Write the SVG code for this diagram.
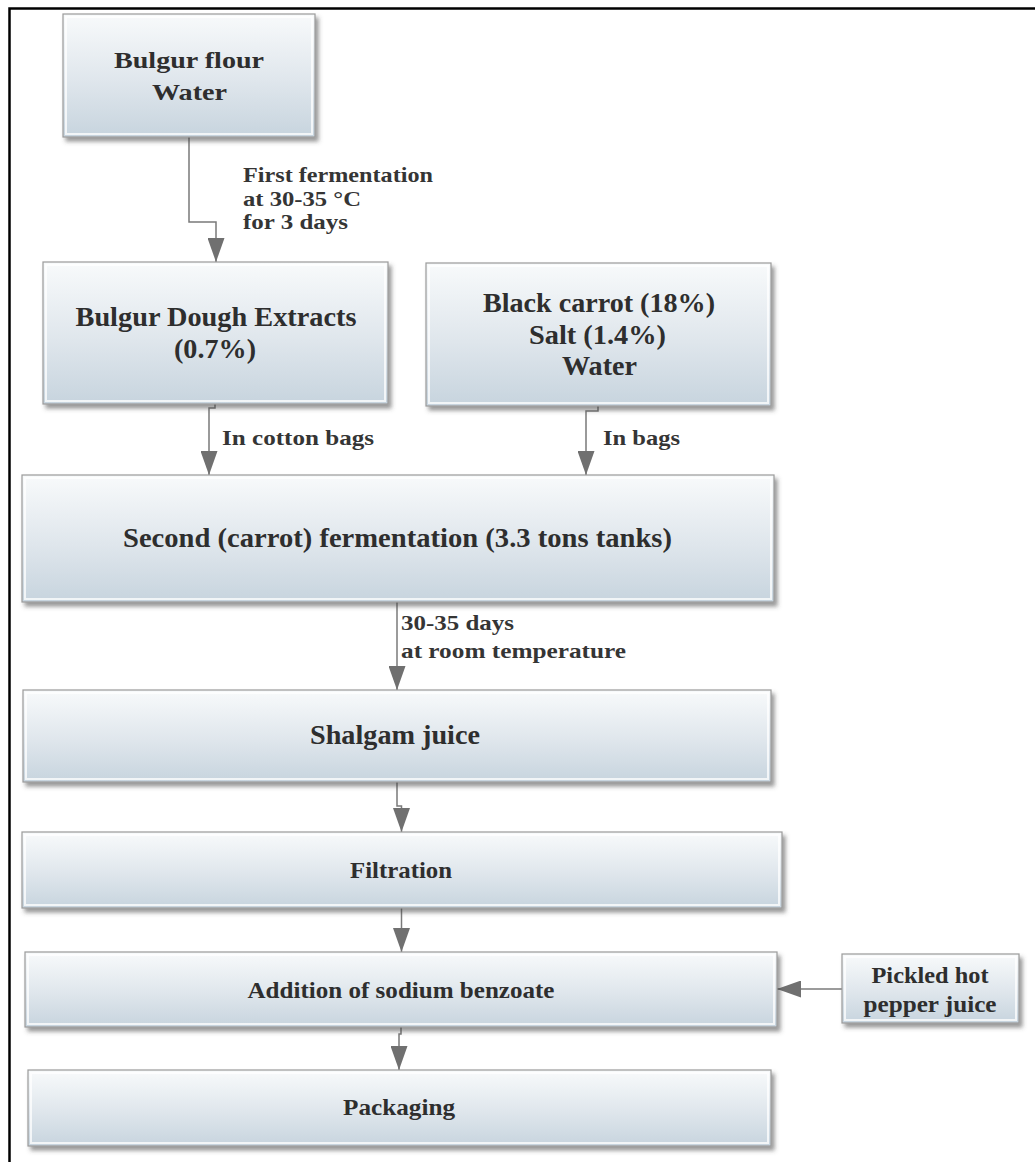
<svg xmlns="http://www.w3.org/2000/svg" width="1035" height="1162" viewBox="0 0 1035 1162" font-family="'Liberation Serif', 'Times New Roman', Tinos, Times, 'Nimbus Roman', FreeSerif, serif">
<defs>
<linearGradient id="fill" x1="0" y1="0" x2="0" y2="1">
<stop offset="0" stop-color="#f8fafb"/>
<stop offset="0.55" stop-color="#dfe6ec"/>
<stop offset="1" stop-color="#c7d4de"/>
</linearGradient>
<filter id="shadow" x="-10%" y="-10%" width="120%" height="130%">
<feDropShadow dx="3" dy="4" stdDeviation="2" flood-color="#444" flood-opacity="0.55"/>
</filter>
<marker id="arrow" viewBox="0 0 24 17" refX="24" refY="8.5" markerWidth="24" markerHeight="17" markerUnits="userSpaceOnUse" orient="auto">
<path d="M0,0 L24,8.5 L0,17 Z" fill="#707070"/>
</marker>
<style>
.box{fill:url(#fill);stroke:#9a9a9a;stroke-width:1.2;filter:url(#shadow);}
.bevel{fill:none;stroke:#ffffff;stroke-opacity:0.75;stroke-width:2;}
.t{font-weight:bold;fill:#2e2e2e;text-anchor:middle;}
.lbl{font-weight:bold;fill:#353535;font-size:22px;}
.c{fill:none;stroke:#7a7a7a;stroke-width:1.5;marker-end:url(#arrow);}
</style>
</defs>
<rect width="1035" height="1162" fill="#ffffff"/>
<path d="M9.5,1162 V8.5 H1035" fill="none" stroke="#000" stroke-width="2.5"/>

<g id="connectors">
<path class="c" d="M189,137 V222 H216 V262"/>
<path class="c" d="M215,404 V408 H209 V475"/>
<path class="c" d="M598,406 V411 H586 V475"/>
<path class="c" d="M397,602 V690"/>
<path class="c" d="M397,782 V806 H401.5 V832"/>
<path class="c" d="M401.5,908 V952"/>
<path class="c" d="M401,1027 V1034 H399 V1070"/>
<path class="c" d="M842,989 H777"/>
<text class="lbl" x="243" y="182" textLength="190" lengthAdjust="spacingAndGlyphs">First fermentation</text>
<text class="lbl" x="243" y="206" textLength="118" lengthAdjust="spacingAndGlyphs">at 30-35 °C</text>
<text class="lbl" x="243" y="229" textLength="105" lengthAdjust="spacingAndGlyphs">for 3 days</text>
<text class="lbl" x="222" y="445" textLength="152" lengthAdjust="spacingAndGlyphs">In cotton bags</text>
<text class="lbl" x="603" y="445" textLength="77" lengthAdjust="spacingAndGlyphs">In bags</text>
<text class="lbl" x="401" y="630" textLength="113" lengthAdjust="spacingAndGlyphs">30-35 days</text>
<text class="lbl" x="401" y="658" textLength="225" lengthAdjust="spacingAndGlyphs">at room temperature</text>
</g>

<g id="n1">
<rect class="box" x="63" y="14" width="252" height="123"/>
<rect class="bevel" x="66" y="17" width="246" height="117"/>
<text class="t" x="189" y="68" font-size="24" textLength="150" lengthAdjust="spacingAndGlyphs">Bulgur flour</text>
<text class="t" x="189.5" y="100" font-size="24" textLength="75" lengthAdjust="spacingAndGlyphs">Water</text>
</g>

<g id="n2">
<rect class="box" x="43" y="262" width="345" height="142"/>
<rect class="bevel" x="46" y="265" width="339" height="136"/>
<text class="t" x="216" y="326" font-size="27" textLength="281" lengthAdjust="spacingAndGlyphs">Bulgur Dough Extracts</text>
<text class="t" x="215" y="358" font-size="27" textLength="82" lengthAdjust="spacingAndGlyphs">(0.7%)</text>
</g>

<g id="n3">
<rect class="box" x="426" y="263" width="345" height="143"/>
<rect class="bevel" x="429" y="266" width="339" height="137"/>
<text class="t" x="599" y="312" font-size="27" textLength="232" lengthAdjust="spacingAndGlyphs">Black carrot (18%)</text>
<text class="t" x="597.5" y="344" font-size="27" textLength="137" lengthAdjust="spacingAndGlyphs">Salt (1.4%)</text>
<text class="t" x="599.5" y="375" font-size="27" textLength="75" lengthAdjust="spacingAndGlyphs">Water</text>
</g>

<g id="n4">
<rect class="box" x="22" y="475" width="752" height="127"/>
<rect class="bevel" x="25" y="478" width="746" height="121"/>
<text class="t" x="397.5" y="547" font-size="27" textLength="549" lengthAdjust="spacingAndGlyphs">Second (carrot) fermentation (3.3 tons tanks)</text>
</g>

<g id="n5">
<rect class="box" x="23" y="690" width="748" height="92"/>
<rect class="bevel" x="26" y="693" width="742" height="86"/>
<text class="t" x="395" y="744" font-size="27" textLength="170" lengthAdjust="spacingAndGlyphs">Shalgam juice</text>
</g>

<g id="n6">
<rect class="box" x="22" y="832" width="760" height="76"/>
<rect class="bevel" x="25" y="835" width="754" height="70"/>
<text class="t" x="401" y="878" font-size="24" textLength="102" lengthAdjust="spacingAndGlyphs">Filtration</text>
</g>

<g id="n7">
<rect class="box" x="25" y="952" width="752" height="75"/>
<rect class="bevel" x="28" y="955" width="746" height="69"/>
<text class="t" x="401" y="998" font-size="24" textLength="307" lengthAdjust="spacingAndGlyphs">Addition of sodium benzoate</text>
</g>

<g id="n8">
<rect class="box" x="842" y="954" width="177" height="69"/>
<rect class="bevel" x="845" y="957" width="171" height="63"/>
<text class="t" x="930" y="983" font-size="23" textLength="117" lengthAdjust="spacingAndGlyphs">Pickled hot</text>
<text class="t" x="930" y="1012" font-size="23" textLength="133" lengthAdjust="spacingAndGlyphs">pepper juice</text>
</g>

<g id="n9">
<rect class="box" x="28" y="1070" width="743" height="76"/>
<rect class="bevel" x="31" y="1073" width="737" height="70"/>
<text class="t" x="399" y="1115" font-size="24" textLength="112" lengthAdjust="spacingAndGlyphs">Packaging</text>
</g>
</svg>
